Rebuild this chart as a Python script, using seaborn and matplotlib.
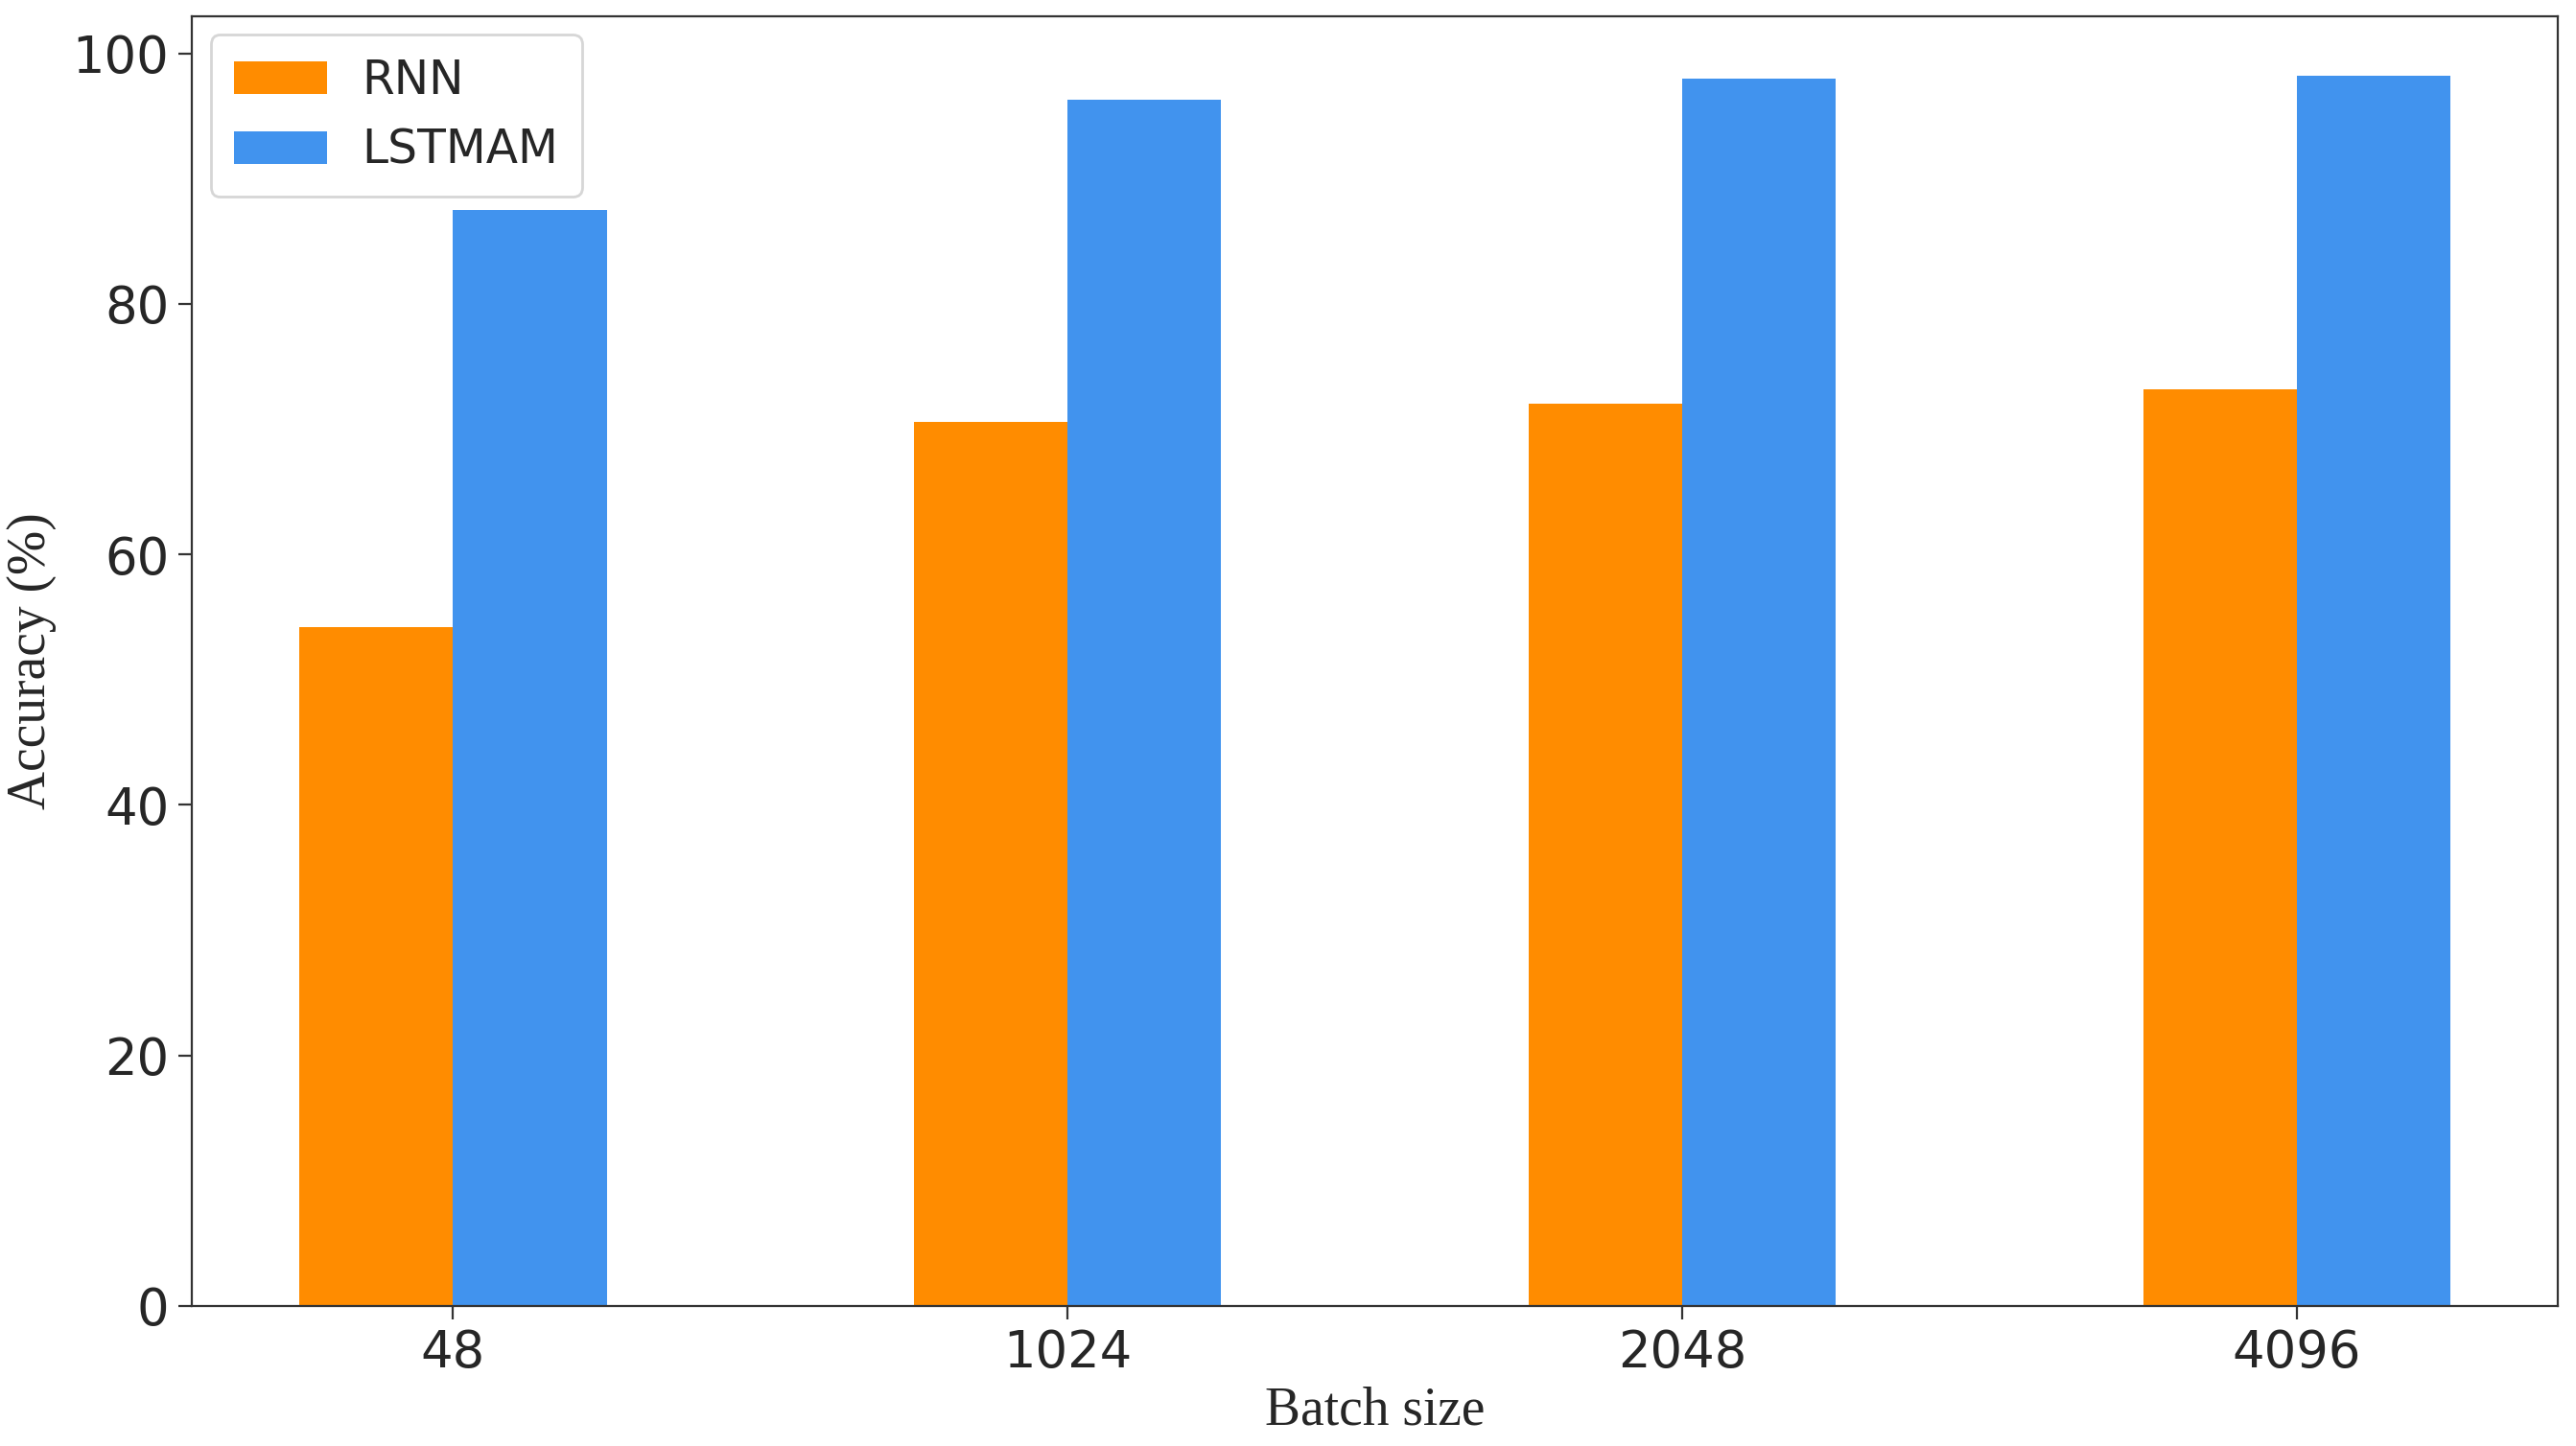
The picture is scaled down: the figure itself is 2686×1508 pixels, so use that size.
import pandas as pd
import matplotlib
matplotlib.use('Agg')
import matplotlib.pyplot as plt
import seaborn as sns

# Data
batch_sizes = ['48', '1024', '2048', '4096']
rnn_acc = [54.2, 70.6, 72.0, 73.2]
lstmam_acc = [87.5, 96.3, 98.0, 98.2]
models = ['RNN', 'LSTMAM']
colors = ['#FF8C00', '#4193EE']

df = pd.DataFrame({
    'Batch size': batch_sizes * 2,
    'Model': ['RNN'] * len(batch_sizes) + ['LSTMAM'] * len(batch_sizes),
    'Accuracy': rnn_acc + lstmam_acc,
})

sns.set_style('ticks')
plt.rcParams['font.family'] = ['DejaVu Sans']

fig = plt.figure(figsize=(13.43, 7.54), dpi=200)
ax = fig.add_axes([0.0745, 0.097, 0.9185, 0.892])

sns.barplot(data=df, x='Batch size', y='Accuracy', hue='Model',
            hue_order=models, palette=colors, width=0.5,
            saturation=1, ax=ax, edgecolor='none', linewidth=0)

ax.set_xlim(-0.425, 3.425)
ax.set_ylim(0, 103)
ax.set_yticks([0, 20, 40, 60, 80, 100])
ax.tick_params(axis='both', labelsize=19, length=5, width=0.8, color='#333333')

for side in ['top', 'right', 'left', 'bottom']:
    ax.spines[side].set_visible(True)
    ax.spines[side].set_color('#333333')
    ax.spines[side].set_linewidth(0.8)

ax.set_xlabel('Batch size', fontsize=20, family=['Liberation Serif'], labelpad=3)
ax.set_ylabel('Accuracy (%)', fontsize=20, family=['Liberation Serif'], labelpad=6)

leg = ax.legend(loc='upper left', fontsize=17.5, frameon=True, fancybox=True,
                borderpad=0.5, handlelength=2.0, handletextpad=0.75,
                labelspacing=0.5, borderaxespad=0.4)
leg.get_frame().set_edgecolor('#cccccc')
leg.set_title(None)

fig.savefig('out.png', dpi=200)
